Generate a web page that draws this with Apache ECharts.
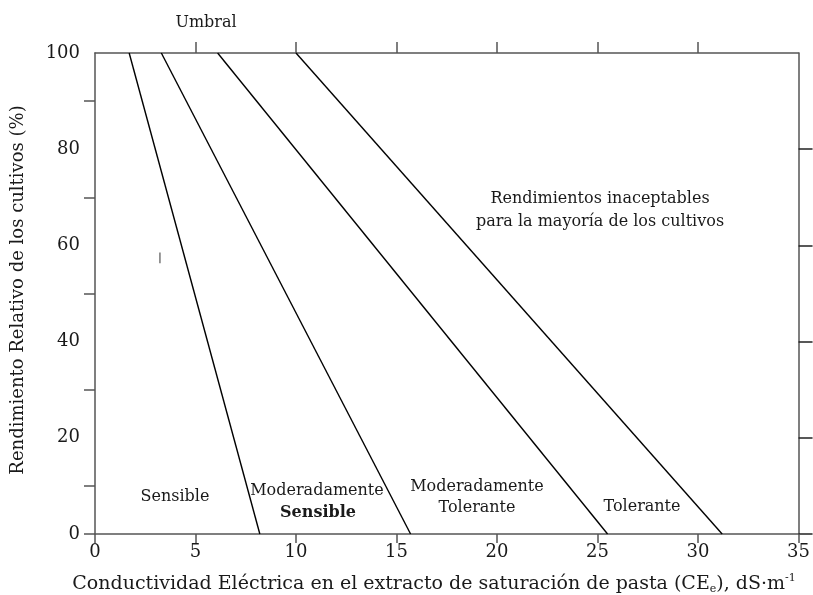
<!DOCTYPE html>
<html>
<head>
<meta charset="utf-8">
<script src="https://cdn.jsdelivr.net/npm/echarts@6/dist/echarts.min.js"></script>
<style>
  html, body { margin: 0; padding: 0; background: #fff; }
  #chart { width: 813px; height: 595px; }
</style>
</head>
<body>
<div id="chart"></div>
<script>
// Salinity tolerance classes: each line runs from the threshold (100 % yield)
// down to the conductivity at which relative yield reaches 0 %.
const classNames = ['Sensible', 'Moderadamente Sensible', 'Moderadamente Tolerante', 'Tolerante'];
const thresholdCE = [1.7, 3.3, 6.1, 10.0];   // dS/m at 100 % yield
const zeroYieldCE = [8.2, 15.7, 25.5, 31.2]; // dS/m at 0 % yield
const yieldTop = 100;
const yieldBottom = 0;

// Small stray mark inside the plot
const strayMarkX = [3.23, 3.23];
const strayMarkY = [56.3, 58.5];

// Axis ticks and labels
const xTicks = [0, 5, 10, 15, 20, 25, 30, 35];
const topTicks = [5, 10, 15, 20, 25, 30];
const yLabels = [0, 20, 40, 60, 80, 100];
const leftTicks = [0, 10, 30, 50, 70, 90];
const rightTicks = [0, 20, 40, 60, 80];

const FONT = 'DejaVu Serif';
const AXIS_COLOR = '#555';
const TEXT_COLOR = '#1a1a1a';

const chart = echarts.init(document.getElementById('chart'), null, { renderer: 'canvas' });

const lineSeries = classNames.map((name, i) => ({
  name: name,
  type: 'line',
  xAxisIndex: 0,
  yAxisIndex: 0,
  symbol: 'none',
  silent: true,
  lineStyle: { color: '#000', width: 1.4 },
  data: [[thresholdCE[i], yieldTop], [zeroYieldCE[i], yieldBottom]]
}));

lineSeries.push({
  name: 'marca',
  type: 'line',
  symbol: 'none',
  silent: true,
  lineStyle: { color: '#777', width: 1.5 },
  data: strayMarkX.map((x, i) => [x, strayMarkY[i]])
});

const txt = (x, y, text, extra) => ({
  type: 'text',
  x: x, y: y,
  style: Object.assign({
    text: text,
    font: '16px "' + FONT + '"',
    fill: TEXT_COLOR,
    align: 'center',
    verticalAlign: 'middle'
  }, extra || {})
});

const option = {
  animation: false,
  backgroundColor: '#fff',
  grid: { left: 95, right: 13, top: 53, bottom: 61, containLabel: false },
  xAxis: [
    {
      type: 'value', position: 'bottom', min: 0, max: 35, interval: 5,
      axisLine: { show: true, onZero: false, lineStyle: { color: AXIS_COLOR, width: 1.5 } },
      axisTick: { show: true, inside: false, length: 9, customValues: xTicks, lineStyle: { color: AXIS_COLOR, width: 1.5 } },
      axisLabel: { show: true, margin: 9, customValues: xTicks, color: TEXT_COLOR, fontFamily: FONT, fontSize: 18 },
      splitLine: { show: false }
    },
    {
      type: 'value', position: 'top', min: 0, max: 35, interval: 5,
      axisLine: { show: true, onZero: false, lineStyle: { color: AXIS_COLOR, width: 1.5 } },
      axisTick: { show: true, inside: false, length: 11, customValues: topTicks, lineStyle: { color: AXIS_COLOR, width: 1.5 } },
      axisLabel: { show: false },
      splitLine: { show: false }
    }
  ],
  yAxis: [
    {
      type: 'value', position: 'left', min: 0, max: 100, interval: 20,
      axisLine: { show: true, onZero: false, lineStyle: { color: AXIS_COLOR, width: 1.5 } },
      axisTick: { show: true, inside: false, length: 11, customValues: leftTicks, lineStyle: { color: AXIS_COLOR, width: 1.5 } },
      axisLabel: { show: true, margin: 15, customValues: yLabels, color: TEXT_COLOR, fontFamily: FONT, fontSize: 18 },
      splitLine: { show: false }
    },
    {
      type: 'value', position: 'right', min: 0, max: 100, interval: 20,
      axisLine: { show: true, onZero: false, lineStyle: { color: AXIS_COLOR, width: 1.5 } },
      axisTick: { show: true, inside: false, length: 14, customValues: rightTicks, lineStyle: { color: '#222', width: 1.5 } },
      axisLabel: { show: false },
      splitLine: { show: false }
    }
  ],
  series: lineSeries,
  graphic: [
    txt(206, 23, 'Umbral'),
    txt(600, 199, 'Rendimientos inaceptables'),
    txt(600, 222, 'para la mayoría de los cultivos'),
    txt(175, 497, 'Sensible'),
    txt(317, 491, 'Moderadamente'),
    txt(318, 513, 'Sensible', { font: 'bold 16px "' + FONT + '"' }),
    txt(477, 487, 'Moderadamente'),
    txt(477, 508, 'Tolerante'),
    txt(642, 507, 'Tolerante'),
    {
      type: 'text',
      x: 18, y: 290,
      rotation: Math.PI / 2,
      style: {
        text: 'Rendimiento Relativo de los cultivos (%)',
        font: '18px "' + FONT + '"',
        fill: TEXT_COLOR,
        align: 'center',
        verticalAlign: 'middle'
      }
    },
    {
      type: 'text',
      x: 434, y: 584,
      style: {
        text: '{m|Conductividad Eléctrica en el extracto de saturación de pasta (CE}{sub|e}{m|), dS·m}{sup|-1}',
        fill: TEXT_COLOR,
        align: 'center',
        verticalAlign: 'middle',
        rich: {
          m: { fontFamily: FONT, fontSize: 19, color: TEXT_COLOR, lineHeight: 22 },
          sub: { fontFamily: FONT, fontSize: 11, color: TEXT_COLOR, verticalAlign: 'bottom', lineHeight: 22, padding: [6, 0, 0, 0] },
          sup: { fontFamily: FONT, fontSize: 11, color: TEXT_COLOR, verticalAlign: 'top', lineHeight: 22, padding: [0, 0, 8, 0] }
        }
      }
    }
  ]
};

chart.setOption(option);
</script>
</body>
</html>
